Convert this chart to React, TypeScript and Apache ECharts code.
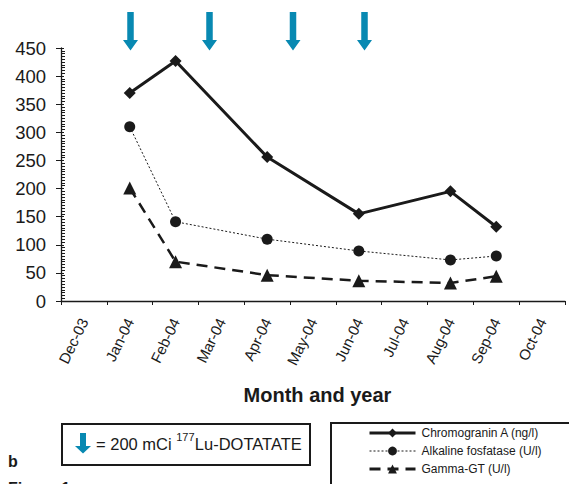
import React, { useEffect, useRef } from "react";
import * as echarts from "echarts";

const categories = ["Dec-03", "Jan-04", "Feb-04", "Mar-04", "Apr-04", "May-04", "Jun-04", "Jul-04", "Aug-04", "Sep-04", "Oct-04"];
const chromogranin = [null, 370, 427, null, 256, null, 155, null, 195, 132, null];
const alkaline = [null, 310, 141, null, 110, null, 89, null, 73, 80, null];
const gammaGT = [null, 201, 70, null, 46, null, 36, null, 32, 44, null];
const seriesNames = ["Chromogranin A (ng/l)", "Alkaline fosfatase (U/l)", "Gamma-GT (U/l)"];
const yTicks = { min: 0, max: 450, interval: 50 };

const FONT = "'Liberation Sans', Arial, sans-serif";
const INK = "#1a1a1a";
const ARROW = "#0889b2";

function arrow(x: number, y: number, shaftLen: number, headLen: number, shaftW: number, headW: number) {
  const s = shaftW / 2;
  const h = headW / 2;
  return {
    type: "polygon",
    shape: {
      points: [
        [x - s, y],
        [x + s, y],
        [x + s, y + shaftLen],
        [x + h, y + shaftLen],
        [x, y + shaftLen + headLen],
        [x - h, y + shaftLen],
        [x - s, y + shaftLen],
      ],
    },
    style: { fill: ARROW },
    silent: true,
  };
}

export default function App() {
  const ref = useRef<HTMLDivElement>(null);
  useEffect(() => {
    if (!ref.current) return;
    const chart = echarts.init(ref.current, null, { renderer: "svg" });
    chart.setOption({
      animation: false,
      backgroundColor: "#ffffff",
      textStyle: { fontFamily: FONT },
      grid: { left: 61, right: 4, top: 48, bottom: 183, containLabel: false },
      xAxis: {
        type: "category",
        data: categories,
        boundaryGap: true,
        axisLine: { lineStyle: { color: INK, width: 1.3 } },
        axisTick: { show: true, alignWithLabel: false, length: 4, lineStyle: { color: INK } },
        axisLabel: { rotate: 64, fontSize: 15, color: INK, margin: 18, fontFamily: FONT, interval: 0 },
        splitLine: { show: false },
      },
      yAxis: [
        {
          type: "value",
          min: yTicks.min,
          max: yTicks.max,
          interval: yTicks.interval,
          axisLine: { show: true, lineStyle: { color: INK, width: 1.3 } },
          axisTick: { show: true, length: 5, lineStyle: { color: INK } },
          axisLabel: { fontSize: 18.5, color: INK, margin: 15, fontFamily: FONT },
          splitLine: { show: false },
        },
        {
          type: "value",
          position: "left",
          min: yTicks.min,
          max: yTicks.max,
          interval: yTicks.interval,
          axisLine: { show: false },
          axisTick: { show: true, inside: true, length: 3, lineStyle: { color: INK } },
          minorTick: { show: true, splitNumber: 10, length: 4, lineStyle: { color: INK } },
          axisLabel: { show: false },
          splitLine: { show: false },
        },
      ],
      legend: {
        orient: "vertical",
        left: 368,
        top: 427,
        height: 57,
        padding: 0,
        itemWidth: 46,
        itemHeight: 11,
        itemGap: 6,
        data: [
          { name: seriesNames[0], itemStyle: { color: INK }, lineStyle: { width: 3, type: "solid", color: INK } },
          { name: seriesNames[1], itemStyle: { color: INK }, lineStyle: { width: 1, type: [2, 2], color: INK } },
          { name: seriesNames[2], itemStyle: { color: INK }, lineStyle: { width: 3, type: [11, 7], color: INK } },
        ],
        textStyle: { fontSize: 12, color: INK, fontFamily: FONT, padding: [0, 0, 0, 1] },
      },
      series: [
        {
          name: seriesNames[0],
          type: "line",
          data: chromogranin,
          connectNulls: true,
          symbol: "diamond",
          symbolSize: 12,
          itemStyle: { color: INK },
          lineStyle: { color: INK, width: 3, type: "solid" },
        },
        {
          name: seriesNames[1],
          type: "line",
          data: alkaline,
          connectNulls: true,
          symbol: "circle",
          symbolSize: 11,
          itemStyle: { color: INK },
          lineStyle: { color: INK, width: 1, type: [2, 2] },
        },
        {
          name: seriesNames[2],
          type: "line",
          data: gammaGT,
          connectNulls: true,
          symbol: "triangle",
          symbolSize: 13,
          itemStyle: { color: INK },
          lineStyle: { color: INK, width: 2.5, type: [11, 7] },
        },
      ],
      graphic: [
        arrow(130.5, 12, 28, 10.5, 6.5, 15),
        arrow(209.5, 12, 28, 10.5, 6.5, 15),
        arrow(293, 12, 28, 10.5, 6.5, 15),
        arrow(364.5, 12, 28, 10.5, 6.5, 15),
        {
          type: "text",
          x: 317.5,
          y: 395,
          style: { text: "Month and year", font: `bold 20px ${FONT}`, fill: INK, align: "center", verticalAlign: "middle" },
        },
        {
          type: "rect",
          shape: { x: 62, y: 424, width: 248, height: 41 },
          style: { fill: "none", stroke: INK, lineWidth: 2 },
        },
        arrow(83, 433, 13, 7.5, 6, 16),
        {
          type: "text",
          x: 96,
          y: 444,
          style: { text: "= 200 mCi ", font: `16.5px ${FONT}`, fill: INK, align: "left", verticalAlign: "middle" },
        },
        {
          type: "text",
          x: 96 + 80.2,
          y: 437,
          style: { text: "177", font: `11px ${FONT}`, fill: INK, align: "left", verticalAlign: "middle" },
        },
        {
          type: "text",
          x: 96 + 80.2 + 18.6,
          y: 444,
          style: { text: "Lu-DOTATATE", font: `16.5px ${FONT}`, fill: INK, align: "left", verticalAlign: "middle" },
        },
        {
          type: "rect",
          shape: { x: 331, y: 423, width: 250, height: 80 },
          style: { fill: "none", stroke: INK, lineWidth: 2 },
        },
        {
          type: "text",
          x: 8,
          y: 453,
          style: { text: "b", font: `bold 16px ${FONT}`, fill: INK },
        },
        {
          type: "text",
          x: 8,
          y: 480,
          style: { text: "Figure 1", font: `bold 16px ${FONT}`, fill: INK },
        },
      ],
    });
    return () => chart.dispose();
  }, []);
  return <div ref={ref} style={{ position: "fixed", left: 0, top: 0, width: 569, height: 484 }} />;
}
